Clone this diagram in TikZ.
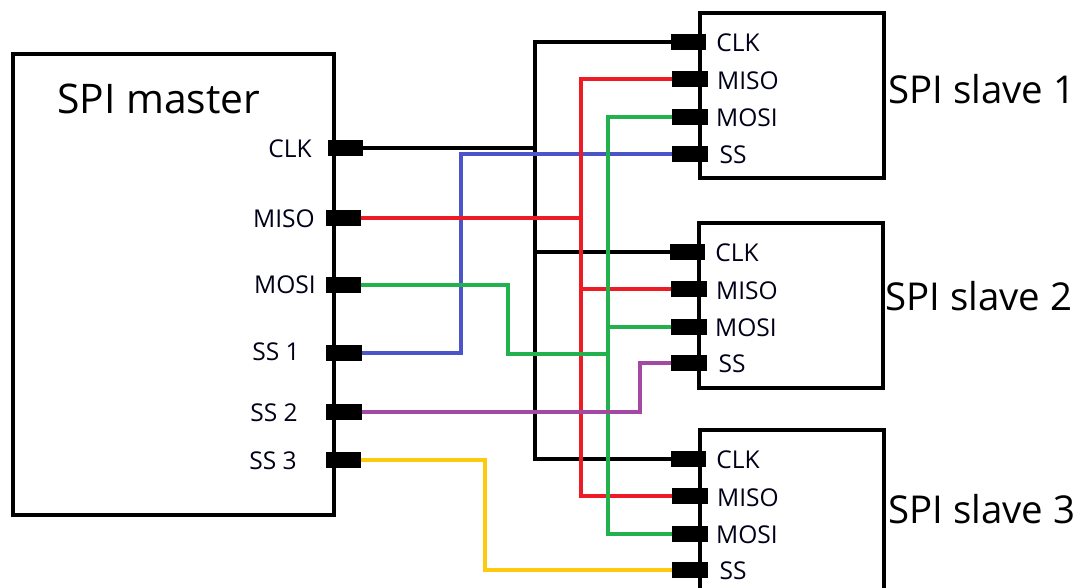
\documentclass[tikz,border=0pt]{standalone}
\usepackage{fontspec}
\setmainfont{Open Sans}
\definecolor{wred}{HTML}{ED1C24}
\definecolor{wgreen}{HTML}{22B14C}
\definecolor{wblue}{HTML}{4B54C8}
\definecolor{wpurple}{HTML}{A349A4}
\definecolor{wyellow}{HTML}{FFC90E}
\tikzset{
  blockbox/.style={draw=black,line width=3pt,fill=white,rectangle,inner sep=0pt,minimum width=#1},
  pinbox/.style={fill=black,rectangle,inner sep=0pt,minimum width=26.5pt,minimum height=11.5pt},
  pinlabel/.style={inner sep=0pt,text=black!90!blue,font=\fontsize{18.4}{21}\selectfont},
  title/.style={inner sep=0pt,text=black,anchor=west,font=\fontsize{28.8}{32}\selectfont},
  wire/.style={line width=3pt,line join=miter},
}
\begin{document}
\begin{tikzpicture}[x=0.75pt,y=-0.75pt]
\clip (0,0) rectangle (1077,588);
\useasboundingbox (0,0) rectangle (1077,588);
\fill[white] (0,0) rectangle (1077,588);
% blocks
\node[blockbox=240.75pt,minimum height=345.75pt] (master) at (173.5,284.5) {};
\node[blockbox=138pt,minimum height=123.75pt] (slaveA) at (792,95.5) {};
\node[blockbox=138pt,minimum height=123.75pt] (slaveB) at (790.5,305.5) {};
\node[blockbox=138pt,minimum height=123.75pt] (slaveC) at (792,512) {};
% master pins
\node[pinbox] (mclk) at (345.5,148) {};
\node[pinbox] (mmiso) at (343.5,218) {};
\node[pinbox] (mmosi) at (343.5,285) {};
\node[pinbox] (mssa) at (344,353) {};
\node[pinbox] (mssb) at (344,412) {};
\node[pinbox] (mssc) at (343.5,460) {};
% slave 1 pins
\node[pinbox] (aclk) at (688.5,42) {};
\node[pinbox] (amiso) at (690,79) {};
\node[pinbox] (amosi) at (690,117) {};
\node[pinbox] (ass) at (690,154) {};
% slave 2 pins
\node[pinbox] (bclk) at (687.5,252) {};
\node[pinbox] (bmiso) at (689,289) {};
\node[pinbox] (bmosi) at (689,327) {};
\node[pinbox] (bss) at (689,363) {};
% slave 3 pins
\node[pinbox] (cclk) at (688.5,459) {};
\node[pinbox] (cmiso) at (690,496) {};
\node[pinbox] (cmosi) at (690,534) {};
\node[pinbox] (css) at (690,570) {};
% junctions and bends
\coordinate (clkbus) at (535,148);
\coordinate (misobus) at (581,218);
\coordinate (mosibend) at (508,285);
\coordinate (mosibus) at (608,354);
\coordinate (ssabend) at (461,353);
\coordinate (ssbbend) at (640,412);
\coordinate (sscbend) at (485,460);
% CLK
\draw[wire,black] (mclk.east) -- (clkbus);
\draw[wire,black] (aclk.west) -| (clkbus |- cclk.west) -- (cclk.west);
\draw[wire,black] (clkbus |- bclk.west) -- (bclk.west);
% SS1
\draw[wire,wblue] (mssa.east) -- (ssabend) |- (ass.west);
% MISO
\draw[wire,wred] (mmiso.east) -- (misobus);
\draw[wire,wred] (amiso.west) -| (misobus |- cmiso.west) -- (cmiso.west);
\draw[wire,wred] (misobus |- bmiso.west) -- (bmiso.west);
% MOSI
\draw[wire,wgreen] (mmosi.east) -- (mosibend) |- (mosibus);
\draw[wire,wgreen] (amosi.west) -| (mosibus |- cmosi.west) -- (cmosi.west);
\draw[wire,wgreen] (mosibus |- bmosi.west) -- (bmosi.west);
% SS2, SS3
\draw[wire,wpurple] (mssb.east) -- (ssbbend) |- (bss.west);
\draw[wire,wyellow] (mssc.east) -- (sscbend) |- (css.west);
% texts
\node[title,font=\fontsize{30.6}{34}\selectfont] (tm) at (57,99) {SPI master};
\node[title] (ta) at (888,89) {SPI slave 1};
\node[title] (tb) at (885,296) {SPI slave 2};
\node[title] (tc) at (888,509) {SPI slave 3};
\node[pinlabel] (lmclk) at (290,149) {CLK};
\node[pinlabel] (lmmiso) at (284,219) {MISO};
\node[pinlabel] (lmmosi) at (285,285) {MOSI};
\node[pinlabel] (lmssa) at (276,352) {SS 1};
\node[pinlabel] (lmssb) at (274,413) {SS 2};
\node[pinlabel] (lmssc) at (273,461) {SS 3};
\node[pinlabel] (laclk) at (738,43) {CLK};
\node[pinlabel] (lamiso) at (748,81) {MISO};
\node[pinlabel] (lamosi) at (747,118) {MOSI};
\node[pinlabel] (lass) at (733,155) {SS};
\node[pinlabel] (lbclk) at (737,253) {CLK};
\node[pinlabel] (lbmiso) at (747,291) {MISO};
\node[pinlabel] (lbmosi) at (746,328) {MOSI};
\node[pinlabel] (lbss) at (732,364) {SS};
\node[pinlabel] (lcclk) at (738,460) {CLK};
\node[pinlabel] (lcmiso) at (748,498) {MISO};
\node[pinlabel] (lcmosi) at (747,535) {MOSI};
\node[pinlabel] (lcss) at (733,571) {SS};
\end{tikzpicture}
\end{document}
